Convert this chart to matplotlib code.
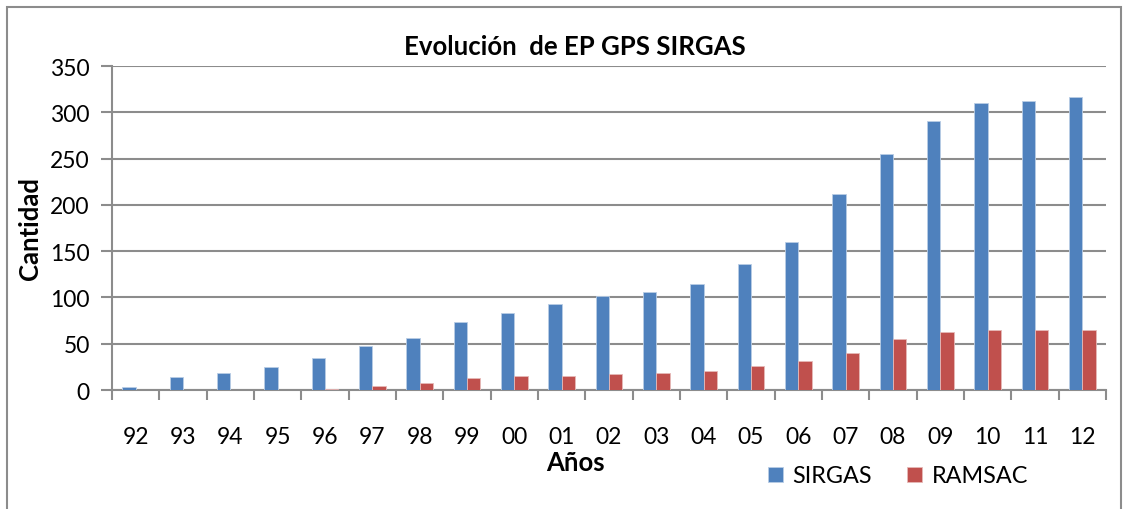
import matplotlib
matplotlib.use("Agg")
import matplotlib.pyplot as plt
import numpy as np
from matplotlib.patches import Rectangle

years = ["92", "93", "94", "95", "96", "97", "98", "99", "00", "01", "02",
         "03", "04", "05", "06", "07", "08", "09", "10", "11", "12"]
sirgas = [3, 14, 18, 25, 35, 47, 56, 73, 83, 93, 102, 106, 114, 136, 160,
          212, 255, 291, 310, 312, 317]
ramsac = [0.5, 0.5, 0.5, 0.5, 1.5, 4, 8, 13, 15, 15, 17, 18, 21, 26, 31,
          40, 55, 63, 65, 65, 65]
yticks = [0, 50, 100, 150, 200, 250, 300, 350]

plt.rcParams['font.family'] = ['Lato', 'DejaVu Sans']

W, H = 1129, 510
fig = plt.figure(figsize=(W / 100, H / 100), dpi=100)
ax = fig.add_axes([112 / W, 1 - 391 / H, (1106 - 112) / W, (391 - 67) / H])

x = np.arange(len(years))
bw = 0.285
blue = "#4F81BD"
red = "#C0504D"
ax.bar(x - bw / 2, sirgas, width=bw, color=blue, edgecolor="#B9CDE5",
       linewidth=0.6, label="SIRGAS", zorder=3)
ax.bar(x + bw / 2, ramsac, width=bw, color=red, edgecolor="#E6B9B8",
       linewidth=0.6, label="RAMSAC", zorder=3)

ax.set_xlim(-0.5, len(years) - 0.5)
ax.set_ylim(0, 350)
ax.set_yticks(yticks)
ax.set_yticklabels([str(v) for v in yticks], fontsize=16.5)
ax.yaxis.grid(True, color="#8C8C8C", linewidth=1.5, zorder=0)
ax.set_axisbelow(True)

ax.set_xticks(np.arange(-0.5, len(years), 1.0))
ax.set_xticklabels([])
ax.set_xticks(x, minor=True)
ax.set_xticklabels(years, minor=True, fontsize=16.5)
ax.tick_params(axis="x", which="minor", length=0, pad=26)
ax.tick_params(axis="x", which="major", length=7, width=1.5, color="#8C8C8C")
ax.tick_params(axis="y", length=8, width=1.5, color="#8C8C8C", pad=8)

for s in ["top", "right"]:
    ax.spines[s].set_visible(False)
for s in ["left", "bottom"]:
    ax.spines[s].set_color("#8C8C8C")
    ax.spines[s].set_linewidth(1.5)

fig.text(575 / W, 1 - 47 / H, "Evolución  de EP GPS SIRGAS", ha="center",
         va="center", fontsize=18.5, fontweight="bold")
fig.text(30 / W, 1 - 229 / H, "Cantidad", ha="center", va="center",
         rotation=90, fontsize=18.5, fontweight="bold")
fig.text(575 / W, 1 - 463 / H, "Años", ha="center", va="center",
         fontsize=18.5, fontweight="bold")

leg = fig.legend(loc="center", bbox_to_anchor=(898 / W, 1 - 477 / H),
                 ncol=2, frameon=False, fontsize=16.8, handlelength=0.65,
                 handleheight=0.65, columnspacing=1.5, handletextpad=0.4)

fig.patches.append(Rectangle((7 / W, -0.05), (1121 - 7) / W, 1.05 - 8 / H,
                             transform=fig.transFigure, fill=False,
                             edgecolor="#8C8C8C", linewidth=1.5))

fig.savefig("out.png", dpi=100)
